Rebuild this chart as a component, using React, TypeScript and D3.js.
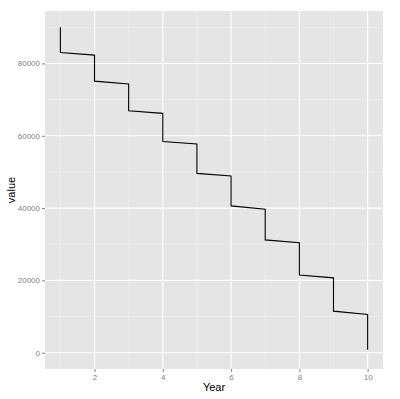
import React, { useEffect, useRef } from "react";
import * as d3 from "d3";

// step-like balance line
const years = [1, 1, 2, 2, 3, 3, 4, 4, 5, 5, 6, 6, 7, 7, 8, 8, 9, 9, 10, 10];
const values = [
  90000, 83000, 82300, 75100, 74300, 66900, 66200, 58400, 57700, 49600,
  48900, 40600, 39700, 31200, 30400, 21500, 20700, 11500, 10600, 800,
];
const xTicks = [2, 4, 6, 8, 10];
const yTicks = [0, 20000, 40000, 60000, 80000];
const xMinor = [1, 3, 5, 7, 9];
const yMinor = [10000, 30000, 50000, 70000, 90000];

export default function App() {
  const ref = useRef<SVGSVGElement>(null);

  useEffect(() => {
    if (!ref.current) return;
    const W = 400, H = 399;
    const left = 45, right = 383, top = 11, bottom = 369;

    const svg = d3.select(ref.current);
    svg.selectAll("*").remove();
    svg.attr("width", W).attr("height", H);

    svg.append("rect").attr("width", W).attr("height", H).attr("fill", "#fff");

    // ggplot style 5% expansion
    const xr = d3.extent(years) as [number, number];
    const xPad = (xr[1] - xr[0]) * 0.05;
    const x = d3.scaleLinear().domain([xr[0] - xPad, xr[1] + xPad]).range([left, right]);

    const yMax = d3.max(values) as number;
    const yPad = yMax * 0.05;
    const y = d3.scaleLinear().domain([-yPad, yMax + yPad]).range([bottom, top]);

    svg.append("rect")
      .attr("x", left).attr("y", top)
      .attr("width", right - left).attr("height", bottom - top)
      .attr("fill", "#e5e5e5");

    const g = svg.append("g");

    // minor grid
    g.selectAll(".xminor").data(xMinor).enter().append("line")
      .attr("x1", d => x(d)).attr("x2", d => x(d))
      .attr("y1", top).attr("y2", bottom)
      .attr("stroke", "#f2f2f2").attr("stroke-width", 0.6);
    g.selectAll(".yminor").data(yMinor).enter().append("line")
      .attr("y1", d => y(d)).attr("y2", d => y(d))
      .attr("x1", left).attr("x2", right)
      .attr("stroke", "#f2f2f2").attr("stroke-width", 0.6);

    // major grid
    g.selectAll(".xmajor").data(xTicks).enter().append("line")
      .attr("x1", d => x(d)).attr("x2", d => x(d))
      .attr("y1", top).attr("y2", bottom)
      .attr("stroke", "#fff").attr("stroke-width", 1.1);
    g.selectAll(".ymajor").data(yTicks).enter().append("line")
      .attr("y1", d => y(d)).attr("y2", d => y(d))
      .attr("x1", left).attr("x2", right)
      .attr("stroke", "#fff").attr("stroke-width", 1.1);

    const line = d3.line<number>()
      .x((d, i) => x(years[i]))
      .y(d => y(d));

    g.append("path")
      .datum(values)
      .attr("d", line)
      .attr("fill", "none")
      .attr("stroke", "#000")
      .attr("stroke-width", 1.1);

    // axes
    const xAxis = svg.append("g")
      .attr("transform", `translate(0,${bottom})`)
      .call(d3.axisBottom(x).tickValues(xTicks).tickSize(3).tickPadding(2).tickFormat(d3.format("d")));
    xAxis.select(".domain").remove();

    const yAxis = svg.append("g")
      .attr("transform", `translate(${left},0)`)
      .call(d3.axisLeft(y).tickValues(yTicks).tickSize(3).tickPadding(2).tickFormat(d3.format("d")));
    yAxis.select(".domain").remove();

    svg.selectAll(".tick line").attr("stroke", "#7f7f7f");
    svg.selectAll(".tick text")
      .attr("fill", "#7f7f7f")
      .style("font-family", "'Liberation Sans', Arial, sans-serif")
      .style("font-size", "8px");

    svg.append("text")
      .attr("x", (left + right) / 2)
      .attr("y", 391)
      .attr("text-anchor", "middle")
      .style("font-family", "'Liberation Sans', Arial, sans-serif")
      .style("font-size", "11px")
      .text("Year");

    svg.append("text")
      .attr("transform", `translate(15,${(top + bottom) / 2}) rotate(-90)`)
      .attr("text-anchor", "middle")
      .style("font-family", "'Liberation Sans', Arial, sans-serif")
      .style("font-size", "11px")
      .text("value");
  }, []);

  return (
    <svg ref={ref} style={{ position: "absolute", left: 0, top: 0, display: "block" }} />
  );
}
